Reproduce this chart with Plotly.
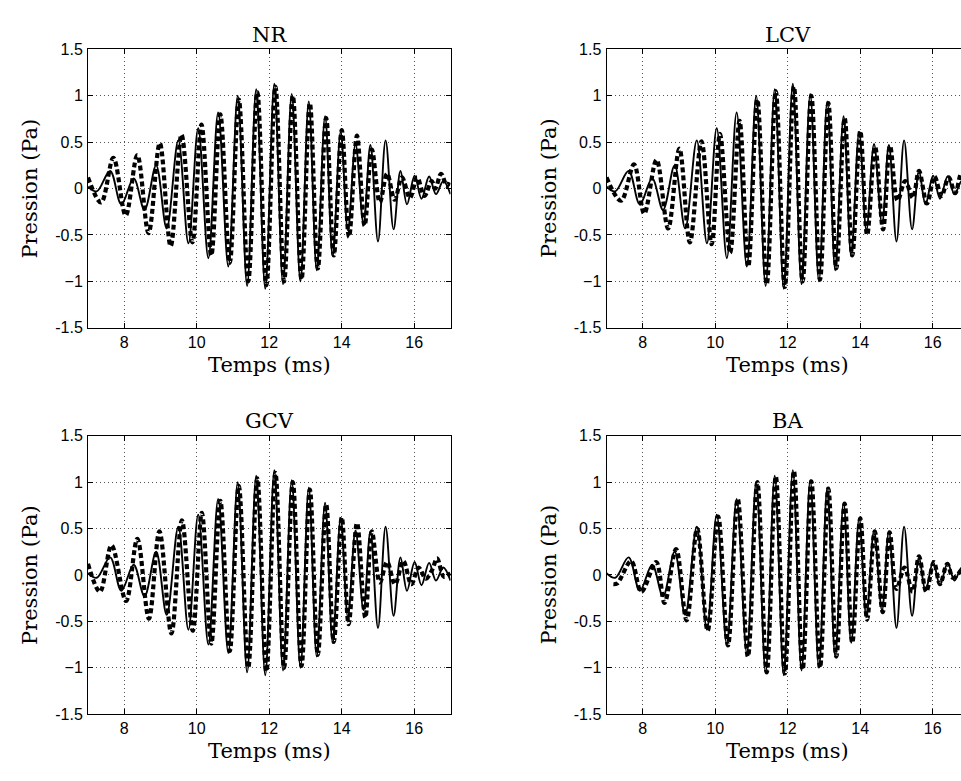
import plotly.graph_objects as go

# ---------------- data (extrema) ----------------
titles = ["NR", "LCV", "GCV", "BA"]
x_ticks = [8, 10, 12, 14, 16]
y_ticks = [-1.5, -1, -0.5, 0, 0.5, 1, 1.5]
y_ticktext = ["-1.5", "\u22121", "-0.5", "0", "0.5", "1", "1.5"]

# measured signal (solid line, same in every panel)
t_ref = [7.00, 7.24, 7.61, 7.92, 8.26, 8.56, 8.88, 9.17, 9.49, 9.77, 10.04, 10.32, 10.59, 10.87,
         11.13, 11.39, 11.64, 11.89, 12.14, 12.38, 12.62, 12.86, 13.09, 13.31, 13.54, 13.75,
         13.97, 14.17, 14.38, 14.60, 14.79, 15.00, 15.21, 15.43, 15.62, 15.80, 16.01, 16.20,
         16.41, 16.60, 16.80, 17.00]
p_ref = [0.02, -0.03, 0.19, -0.17, 0.11, -0.23, 0.25, -0.43, 0.52, -0.59, 0.65, -0.75, 0.82, -0.84,
         1.00, -1.05, 1.07, -1.08, 1.13, -1.03, 1.02, -1.00, 0.94, -0.88, 0.78, -0.73,
         0.61, -0.45, 0.48, -0.38, 0.47, -0.57, 0.52, -0.44, 0.19, -0.17, 0.14, -0.11,
         0.13, -0.06, 0.08, -0.06]

# reconstructions (thick dotted line)
t_nr = [7.00, 7.36, 7.70, 8.04, 8.36, 8.67, 8.98, 9.28, 9.58, 9.88, 10.13, 10.40, 10.65, 10.91,
        11.16, 11.42, 11.67, 11.92, 12.17, 12.41, 12.65, 12.89, 13.12, 13.34, 13.57, 13.78,
        14.00, 14.20, 14.42, 14.63, 14.83, 15.05, 15.25, 15.46, 15.66, 15.88, 16.08, 16.28,
        16.48, 16.58, 16.74, 16.90, 17.00]
p_nr = [0.12, -0.15, 0.33, -0.29, 0.36, -0.48, 0.49, -0.62, 0.58, -0.58, 0.69, -0.72, 0.80, -0.80,
        0.96, -1.00, 1.04, -1.04, 1.10, -1.00, 1.00, -0.98, 0.92, -0.86, 0.76, -0.72,
        0.63, -0.52, 0.57, -0.40, 0.42, -0.15, 0.16, -0.12, 0.12, -0.10, 0.12, -0.08,
        0.08, 0.00, 0.16, 0.03, 0.10]

t_lcv = [7.00, 7.40, 7.76, 8.04, 8.38, 8.70, 9.01, 9.30, 9.62, 9.90, 10.13, 10.41, 10.67, 10.91,
         11.16, 11.42, 11.67, 11.92, 12.17, 12.41, 12.65, 12.89, 13.12, 13.34, 13.57, 13.78,
         14.00, 14.19, 14.41, 14.63, 14.82, 15.03, 15.24, 15.45, 15.62, 15.84, 16.05, 16.24,
         16.44, 16.62, 16.80, 17.00]
p_lcv = [0.12, -0.13, 0.26, -0.27, 0.31, -0.43, 0.43, -0.58, 0.51, -0.60, 0.59, -0.69, 0.73, -0.84,
         0.96, -1.03, 1.05, -1.06, 1.10, -1.00, 1.00, -0.98, 0.92, -0.86, 0.76, -0.72,
         0.62, -0.50, 0.45, -0.44, 0.46, -0.13, 0.08, -0.10, 0.19, -0.16, 0.13, -0.08,
         0.12, -0.05, 0.17, 0.05]

t_gcv = [7.00, 7.33, 7.65, 8.05, 8.36, 8.68, 8.97, 9.30, 9.59, 9.89, 10.14, 10.40, 10.65, 10.91,
         11.16, 11.42, 11.67, 11.92, 12.17, 12.41, 12.65, 12.89, 13.12, 13.34, 13.57, 13.78,
         14.00, 14.19, 14.42, 14.65, 14.83, 15.05, 15.25, 15.47, 15.70, 15.92, 16.12, 16.32,
         16.50, 16.63, 16.82, 17.00]
p_gcv = [0.12, -0.18, 0.32, -0.28, 0.39, -0.47, 0.47, -0.63, 0.59, -0.60, 0.67, -0.74, 0.80, -0.82,
         0.96, -1.00, 1.04, -1.04, 1.10, -1.00, 1.00, -0.98, 0.92, -0.86, 0.76, -0.72,
         0.62, -0.53, 0.56, -0.46, 0.47, -0.08, 0.14, -0.10, 0.15, -0.10, 0.08, -0.04,
         0.06, 0.18, -0.02, 0.02]

t_ba = [7.19, 7.30, 7.68, 7.96, 8.37, 8.60, 8.92, 9.21, 9.50, 9.79, 10.08, 10.35, 10.62, 10.90,
        11.16, 11.42, 11.67, 11.92, 12.17, 12.41, 12.65, 12.89, 13.12, 13.34, 13.57, 13.78,
        14.00, 14.19, 14.40, 14.62, 14.81, 15.00, 15.22, 15.44, 15.62, 15.82, 16.03, 16.20,
        16.40, 16.56, 16.78]
p_ba = [-0.10, -0.09, 0.15, -0.18, 0.14, -0.30, 0.28, -0.49, 0.50, -0.60, 0.63, -0.76, 0.82, -0.88,
        1.00, -1.05, 1.06, -1.06, 1.12, -1.02, 1.01, -1.00, 0.93, -0.88, 0.77, -0.73,
        0.61, -0.48, 0.47, -0.40, 0.46, -0.15, 0.08, -0.18, 0.20, -0.18, 0.14, -0.10,
        0.12, -0.03, 0.05]

recon = [(t_nr, p_nr), (t_lcv, p_lcv), (t_gcv, p_gcv), (t_ba, p_ba)]

# ---------------- layout geometry (pixels) ----------------
W, H = 961, 781
PXMS = 36.25
col_left = [88.0, 606.5]
row_top = [42.3, 437.3]
ax_h = 284.6


def px(x):
    return x / W


def py(y):
    return 1 - y / H


fig = go.Figure()
SERIF = "DejaVu Serif"
SANS = "Liberation Sans"

annotations = []
for k in range(4):
    r, c = divmod(k, 2)
    idx = "" if k == 0 else str(k + 1)
    x0 = col_left[c]
    x1 = min(x0 + 10 * PXMS, W)
    xmax = 7 + (x1 - x0) / PXMS
    y0 = row_top[r]
    y1 = y0 + ax_h

    fig.add_trace(go.Scatter(x=t_ref, y=p_ref, mode="lines",
                             line=dict(color="black", width=1.9, shape="spline", smoothing=1),
                             xaxis="x" + idx, yaxis="y" + idx, showlegend=False,
                             hoverinfo="skip"))
    tr, pr = recon[k]
    fig.add_trace(go.Scatter(x=tr, y=pr, mode="lines",
                             line=dict(color="black", width=4.2, dash="5px,3px",
                                       shape="spline", smoothing=1),
                             xaxis="x" + idx, yaxis="y" + idx, showlegend=False,
                             hoverinfo="skip"))

    common = dict(showline=True, linecolor="black", linewidth=1, ticks="inside", ticklen=5,
                  tickcolor="black", showgrid=True, gridcolor="#555555", gridwidth=1,
                  griddash="1px,3px", zeroline=False,
                  tickfont=dict(family=SANS, size=16, color="black"))
    fig.update_layout(**{
        "xaxis" + idx: dict(common, domain=[px(x0), px(x1)], range=[7, xmax],
                            tickvals=x_ticks, ticktext=[str(v) for v in x_ticks],
                            mirror="ticks", anchor="y" + idx),
        "yaxis" + idx: dict(common, domain=[py(y1), py(y0)], range=[-1.5, 1.5],
                            tickvals=y_ticks, ticktext=y_ticktext,
                            mirror="ticks" if c == 0 else False, anchor="x" + idx,
                            ticklabelstandoff=1),
    })

    cx = x0 + 5 * PXMS
    annotations.append(dict(text=titles[k], x=px(cx), y=py(y0 - 15), xref="paper", yref="paper",
                            xanchor="center", yanchor="middle", showarrow=False,
                            font=dict(family=SERIF, size=21, color="black")))
    annotations.append(dict(text="Temps (ms)", x=px(cx), y=py(y1 + 38), xref="paper", yref="paper",
                            xanchor="center", yanchor="middle", showarrow=False,
                            font=dict(family=SERIF, size=21, color="black")))
    annotations.append(dict(text="Pression (Pa)", x=px(x0 - 58), y=py(y0 + ax_h / 2),
                            xref="paper", yref="paper", textangle=-90,
                            xanchor="center", yanchor="middle", showarrow=False,
                            font=dict(family=SERIF, size=21, color="black")))

fig.update_layout(width=W, height=H, margin=dict(l=0, r=0, t=0, b=0),
                  paper_bgcolor="white", plot_bgcolor="white",
                  annotations=annotations, showlegend=False, hovermode=False)

fig.write_html("out.html", config={"displayModeBar": False, "staticPlot": True},
               post_script="document.body.style.margin='0';document.body.style.overflow='hidden';")
